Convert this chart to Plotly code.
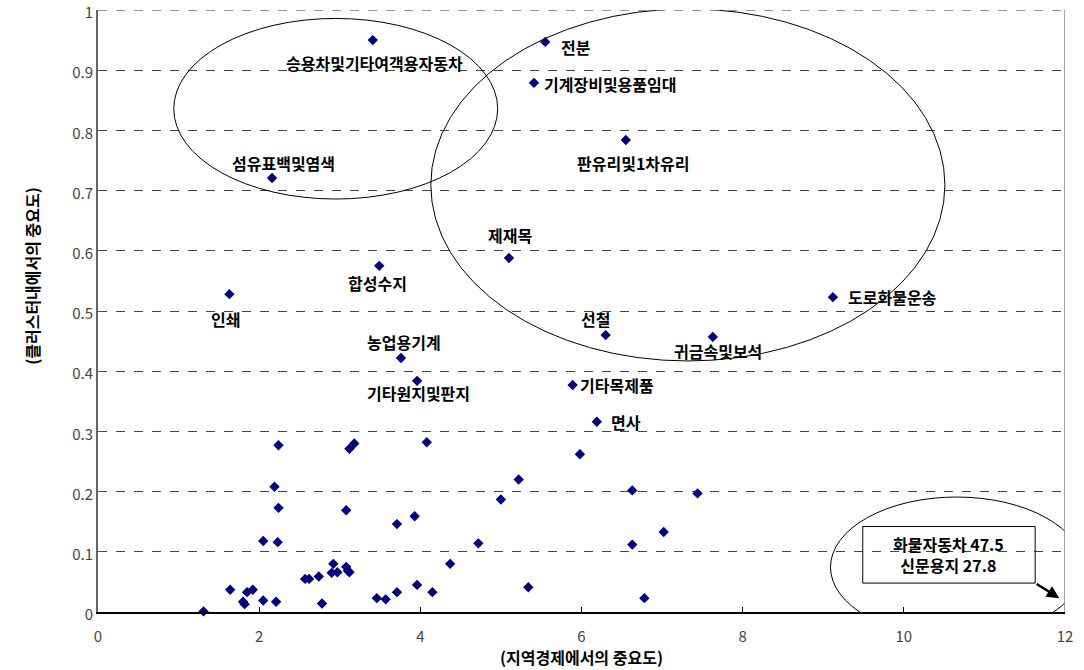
import plotly.graph_objects as go

# ---- data ----
label_names = ["승용차및기타여객용자동차", "전분", "기계장비및용품임대", "판유리및1차유리",
               "섬유표백및염색", "제재목", "합성수지", "인쇄", "도로화물운송", "선철",
               "귀금속및보석", "농업용기계", "기타원지및판지", "기타목제품", "면사"]
label_x = [3.41, 5.55, 5.41, 6.55, 2.16, 5.10, 3.49, 1.63, 9.12, 6.30, 7.63, 3.76, 3.96, 5.89, 6.19]
label_y = [0.950, 0.947, 0.879, 0.784, 0.721, 0.588, 0.575, 0.528, 0.523, 0.460, 0.457, 0.422,
           0.384, 0.377, 0.316]

other_x = [2.24, 3.12, 3.18, 4.08, 5.98, 5.22, 2.19, 6.63, 7.44, 5.00, 2.24, 3.08, 3.93, 3.71,
           7.02, 2.05, 2.23, 4.72, 6.63, 2.92, 4.37, 3.08, 3.10, 3.12, 2.90, 2.97, 2.74, 2.57,
           2.62, 3.96, 5.34, 1.64, 1.92, 1.85, 3.71, 4.15, 3.46, 3.57, 6.78, 2.05, 1.80, 2.21,
           1.82, 2.78, 1.31]
other_y = [0.277, 0.271, 0.280, 0.282, 0.262, 0.220, 0.208, 0.202, 0.197, 0.187, 0.173, 0.169,
           0.159, 0.146, 0.133, 0.118, 0.116, 0.114, 0.112, 0.080, 0.080, 0.075, 0.069, 0.066,
           0.065, 0.066, 0.059, 0.055, 0.055, 0.045, 0.041, 0.037, 0.037, 0.033, 0.033, 0.033,
           0.023, 0.021, 0.023, 0.019, 0.017, 0.017, 0.013, 0.014, 0.001]

note_text = "화물자동차 47.5<br>신문용지 27.8"
x_ticks = [0, 2, 4, 6, 8, 10, 12]
y_ticks = [0, 0.1, 0.2, 0.3, 0.4, 0.5, 0.6, 0.7, 0.8, 0.9, 1]
y_tick_text = ["0", "0.1", "0.2", "0.3", "0.4", "0.5", "0.6", "0.7", "0.8", "0.9", "1"]

# ---- label placement (pixel shifts, anchor) ----
label_style = {
    "승용차및기타여객용자동차": (2, -23, "center"),
    "전분": (31, -5, "center"),
    "기계장비및용품임대": (76, -1, "center"),
    "판유리및1차유리": (7, -23, "center"),
    "섬유표백및염색": (11, 15, "center"),
    "제재목": (1, 23, "center"),
    "합성수지": (-2, -17, "center"),
    "인쇄": (-4, -25, "center"),
    "도로화물운송": (13, 0, "left"),
    "선철": (-10, 16, "center"),
    "귀금속및보석": (5, -14, "center"),
    "농업용기계": (3, 16, "center"),
    "기타원지및판지": (1, -12, "center"),
    "기타목제품": (5, 0, "left"),
    "면사": (12, 0, "left"),
}

FONT = "Noto Sans CJK KR, Noto Sans, sans-serif"
NAVY = "#000080"

fig = go.Figure()
fig.add_trace(go.Scatter(
    x=label_x + other_x, y=label_y + other_y, mode="markers",
    marker=dict(symbol="diamond", size=8, color=NAVY),
    cliponaxis=False, showlegend=False, hoverinfo="x+y"))

annotations = []
for name, x, y in zip(label_names, label_x, label_y):
    dx, dy, anchor = label_style[name]
    annotations.append(dict(
        x=x, y=y, xref="x", yref="y", text=name, showarrow=False,
        xshift=dx, yshift=dy, xanchor=anchor, yanchor="middle",
        font=dict(family=FONT, size=16, color="black", weight="bold")))

# note box text + arrow
annotations.append(dict(
    x=10.56, y=0.095, xref="x", yref="y", text=note_text, showarrow=False,
    font=dict(family=FONT, size=16, color="black", weight="bold"), align="center"))
annotations.append(dict(
    x=11.93, y=0.023, ax=11.63, ay=0.048, xref="x", yref="y", axref="x", ayref="y",
    text="", showarrow=True, arrowhead=2, arrowsize=1, arrowwidth=2.5, arrowcolor="black"))

# axis titles
annotations.append(dict(
    x=0.5, y=-0.0748, xref="paper", yref="paper", text="(지역경제에서의 중요도)",
    showarrow=False, yanchor="middle",
    font=dict(family=FONT, size=16, color="black", weight="bold")))
annotations.append(dict(
    x=-0.083, y=0.558, xref="paper", yref="paper", text="(클러스터내에서의 중요도)",
    showarrow=False, textangle=-90,
    font=dict(family=FONT, size=16, color="black", weight="bold")))

shapes = [
    # ellipses
    dict(type="circle", xref="x", yref="y", x0=0.94, x1=4.96, y0=0.686, y1=0.986,
         line=dict(color="black", width=1)),
    dict(type="circle", xref="x", yref="y", x0=4.13, x1=10.51, y0=0.417, y1=1.002,
         line=dict(color="black", width=1)),
    dict(type="circle", xref="x", yref="y", x0=9.09, x1=12.22, y0=-0.042, y1=0.191,
         line=dict(color="black", width=1)),
    # note box
    dict(type="rect", xref="x", yref="y", x0=9.49, x1=11.63, y0=0.048, y1=0.142,
         line=dict(color="black", width=1)),
    # right border
    dict(type="line", xref="x", yref="y", x0=12, x1=12, y0=0, y1=1,
         line=dict(color="#888888", width=1.5)),
    # top dashed grid line
    dict(type="line", xref="x", yref="y", x0=0, x1=12, y0=1, y1=1,
         line=dict(color="#777777", width=1.5, dash="dash")),
]

fig.update_layout(
    width=1084, height=670,
    margin=dict(l=98, r=19, t=10, b=58, autoexpand=False),
    plot_bgcolor="white", paper_bgcolor="white",
    font=dict(family=FONT, color="#333333"),
    annotations=annotations, shapes=shapes,
    xaxis=dict(range=[0, 12], tickvals=x_ticks, ticks="inside", ticklen=5,
               tickcolor="black", showline=True, linecolor="black", linewidth=1.5,
               showgrid=False, zeroline=False, ticklabelstandoff=10,
               ticklabeloverflow="allow", automargin=False,
               tickfont=dict(family=FONT, size=15, color="#444444")),
    yaxis=dict(range=[0, 1], tickvals=y_ticks, ticktext=y_tick_text, ticks="inside",
               ticklen=4, tickcolor="#555555", showline=True, linecolor="#666666",
               linewidth=2, showgrid=True, gridcolor="#444444", gridwidth=1,
               griddash="dash", zeroline=False, ticklabeloverflow="allow",
               automargin=False, ticklabelshift=3,
               tickfont=dict(family=FONT, size=15, color="#444444")),
)

fig.write_html("out.html", config={"displayModeBar": False},
               post_script="document.body.style.margin='0';document.body.style.overflow='hidden';")
